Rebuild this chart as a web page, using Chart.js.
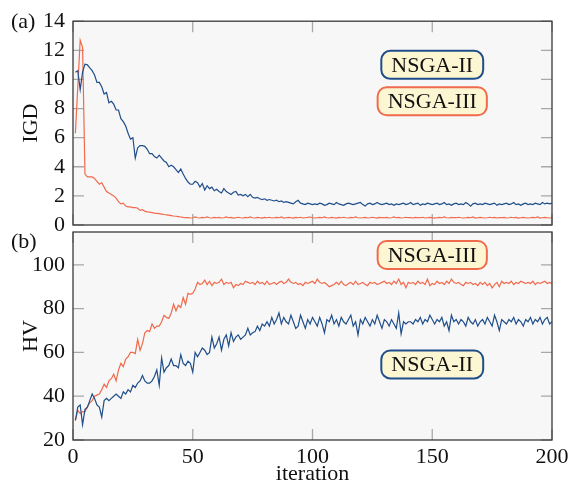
<!DOCTYPE html>
<html>
<head>
<meta charset="utf-8">
<script src="https://cdn.jsdelivr.net/npm/chart.js@4.4.0/dist/chart.umd.min.js"></script>
<style>
  html, body { margin: 0; padding: 0; background: #fff; }
  #wrap { position: relative; width: 578px; height: 485px; }
  canvas { position: absolute; left: 0; top: 0; }
</style>
</head>
<body>
<div id="wrap">
  <canvas id="igd-chart" width="578" height="485"></canvas>
  <canvas id="hv-chart" width="578" height="485"></canvas>
</div>
<script>
// Datos: un valor por iteración (1..200)
const igdNsga2 = [
  10.5, 10.6, 9.3, 10.5, 11.05, 11.0, 10.8, 10.6, 10.3, 9.8,
  9.8, 9.5, 9.0, 9.1, 8.4, 8.5, 8.3, 7.9, 7.9, 7.3,
  7.1, 6.8, 6.3, 5.9, 6.0, 4.6, 5.3, 5.45, 5.45, 5.4,
  5.2, 4.9, 4.9, 4.7, 4.6, 4.8, 4.6, 4.4, 4.3, 4.0,
  4.1, 4.0, 3.8, 3.6, 3.85, 3.5, 3.2, 2.95, 2.8, 2.8,
  3.0, 2.9, 2.6, 2.85, 2.4, 2.7, 2.5, 2.6, 2.35, 2.45,
  2.3, 2.2, 2.5, 2.3, 2.2, 2.1, 2.25, 2.3, 2.05, 2.1,
  2.0, 2.1, 1.95, 2.1, 1.9, 1.85, 1.9, 1.8, 1.75, 1.8,
  1.7, 1.75, 1.7, 1.65, 1.7, 1.6, 1.65, 1.55, 1.6, 1.55,
  1.5, 1.45, 1.6, 1.7, 1.5, 1.45, 1.4, 1.5, 1.45, 1.4,
  1.45, 1.4, 1.5, 1.45, 1.35, 1.4, 1.5, 1.45, 1.4, 1.55,
  1.45, 1.4, 1.35, 1.45, 1.5, 1.45, 1.4, 1.45, 1.5, 1.55,
  1.4, 1.3, 1.45, 1.5, 1.4, 1.45, 1.55, 1.45, 1.4, 1.45,
  1.5, 1.4, 1.45, 1.35, 1.45, 1.4, 1.45, 1.5, 1.4, 1.45,
  1.55, 1.4, 1.45, 1.5, 1.35, 1.45, 1.4, 1.5, 1.45, 1.4,
  1.45, 1.5, 1.4, 1.45, 1.55, 1.4, 1.45, 1.35, 1.45, 1.5,
  1.4, 1.45, 1.4, 1.55, 1.45, 1.3, 1.45, 1.5, 1.4, 1.45,
  1.4, 1.5, 1.45, 1.4, 1.45, 1.5, 1.35, 1.45, 1.4, 1.45,
  1.5, 1.4, 1.45, 1.55, 1.4, 1.45, 1.35, 1.45, 1.5, 1.4,
  1.45, 1.4, 1.5, 1.45, 1.4, 1.55, 1.45, 1.5, 1.45, 1.5
];
const igdNsga3 = [
  6.3, 9.5, 12.7, 12.2, 3.5, 3.3, 3.3, 3.3, 3.2, 3.0,
  2.8, 2.9, 2.6, 2.3, 2.2, 2.1, 2.0, 1.85, 1.6, 1.45,
  1.5, 1.3, 1.25, 1.25, 1.2, 1.2, 1.15, 1.0, 1.05, 0.95,
  0.9, 0.88, 0.85, 0.82, 0.8, 0.78, 0.75, 0.72, 0.7, 0.68,
  0.65, 0.62, 0.6, 0.58, 0.55, 0.52, 0.5, 0.5, 0.48, 0.5,
  0.55, 0.5, 0.48, 0.52, 0.5, 0.55, 0.5, 0.48, 0.52, 0.5,
  0.52, 0.48, 0.5, 0.55, 0.5, 0.52, 0.47, 0.5, 0.53, 0.5,
  0.48, 0.52, 0.5, 0.55, 0.5, 0.48, 0.52, 0.5, 0.47, 0.52,
  0.5, 0.53, 0.48, 0.5, 0.52, 0.5, 0.55, 0.48, 0.5, 0.52,
  0.5, 0.47, 0.52, 0.5, 0.53, 0.48, 0.5, 0.52, 0.55, 0.5,
  0.48, 0.5, 0.52, 0.5, 0.55, 0.5, 0.48, 0.52, 0.5, 0.47,
  0.52, 0.5, 0.53, 0.5, 0.48, 0.52, 0.5, 0.55, 0.5, 0.48,
  0.5, 0.52, 0.48, 0.5, 0.53, 0.5, 0.47, 0.52, 0.5, 0.5,
  0.52, 0.48, 0.5, 0.55, 0.5, 0.52, 0.48, 0.5, 0.53, 0.5,
  0.5, 0.48, 0.52, 0.5, 0.5, 0.53, 0.48, 0.5, 0.52, 0.5,
  0.47, 0.5, 0.52, 0.5, 0.55, 0.5, 0.48, 0.52, 0.5, 0.5,
  0.53, 0.5, 0.48, 0.5, 0.52, 0.5, 0.55, 0.48, 0.5, 0.52,
  0.5, 0.48, 0.5, 0.53, 0.5, 0.52, 0.48, 0.5, 0.5, 0.52,
  0.48, 0.5, 0.53, 0.5, 0.52, 0.47, 0.5, 0.52, 0.5, 0.48,
  0.5, 0.52, 0.5, 0.55, 0.48, 0.5, 0.52, 0.5, 0.48, 0.5
];
const hvNsga2 = [
  29, 35, 36, 27, 34, 35, 38, 41, 39, 36,
  35, 30.5, 38, 39, 38, 39, 40, 41, 40, 39,
  42, 41, 43, 42, 45, 44, 46, 47, 49.5, 47,
  46, 46, 47, 49, 52, 45, 57.5, 51, 53, 54,
  57, 54, 54, 53, 59, 55, 54, 56, 55, 51,
  60, 58, 60, 62, 61, 59, 60, 67, 62, 64,
  67, 61, 66, 68, 63, 69, 65, 67, 68, 66,
  67, 68, 71, 68, 69, 69.5, 72, 70, 73, 72,
  74, 72, 76, 73, 75, 78, 73, 76, 74, 73,
  77, 74, 71, 72, 77, 74, 71, 75, 73, 76,
  74, 72, 76, 73, 69, 75, 74, 77, 73, 75,
  72, 76, 74, 73, 75, 77, 72, 74, 68, 75,
  73, 76, 74, 72, 75, 73, 77, 74, 71, 75,
  74, 72, 75, 73, 71, 78, 68.5, 74, 73, 74,
  74, 73, 75, 74, 76, 73, 75, 74, 77, 75,
  73, 75, 74, 76, 72, 74, 70, 77, 74, 75,
  73, 75, 74, 72, 76, 74, 73, 75, 72, 74,
  75, 73, 76, 74, 72, 77, 74, 70, 75, 74,
  73, 75, 74, 76, 73, 75, 74, 72, 75, 74,
  76, 73, 75, 74, 76, 73, 75, 76, 73, 74
];
const hvNsga3 = [
  29, 33.5, 32, 33, 33, 35, 37, 38, 40, 40.5,
  41, 43, 45.5, 44, 47, 48, 50, 47, 52, 55,
  53.5, 57, 58, 60, 60, 59.5, 66, 61, 64, 69,
  70, 69.5, 73, 71, 72, 72, 74, 77, 76, 75.5,
  78, 82, 79, 81.5, 80.5, 85, 82, 87, 86.5, 87,
  89, 92, 91, 91.5, 93, 91, 92.5, 90.5, 92, 91.5,
  92, 93.5, 91, 92, 91.5, 92, 89.5, 91, 90.5, 91.5,
  91, 92.5, 92, 91.5, 92, 91, 92.5, 91.5, 92, 91,
  92.5, 91, 91.5, 92, 91, 92, 92.5, 91.5, 92, 93.5,
  92, 91.5, 92, 91, 91.5, 90.5, 92, 91.5, 92, 92.5,
  91.5, 93.5, 92, 91.5, 92, 91, 90, 90.5, 91, 92,
  91, 92.5, 91, 90.5, 91.5, 92, 91, 92.5, 91, 91.5,
  92, 91, 90.5, 92, 91.5, 92, 91, 91.5, 92, 92.5,
  91.5, 92, 91, 92.5, 91.5, 93.5, 91, 92, 89.5, 92,
  91.5, 92, 91, 92.5, 91.5, 92, 91, 93.5, 90.5, 91.5,
  91, 92.5, 91.5, 92, 91, 92.5, 91.5, 93.5, 92, 91.5,
  92, 91, 90.5, 92, 91.5, 92, 91, 91.5, 90.5, 92,
  91, 92, 90.5, 91.5, 89.5, 91, 92, 90, 92.5, 91.5,
  92, 91.5, 92.5, 91, 92, 91.5, 92.5, 92, 91.5, 92,
  91.5, 92.5, 91, 92, 91.5, 92, 92.5, 91.5, 92, 91.5
];

// Marcas de los ejes
const xTicks = [0, 50, 100, 150, 200];
const igdTicks = [0, 2, 4, 6, 8, 10, 12, 14];
const hvTicks = [20, 40, 60, 80, 100];

const BLUE = '#1f4e8a';
const ORANGE = '#f06a4c';
const FONT = "'Liberation Serif', 'DejaVu Serif', serif";

function toPoints(values) {
  return values.map((v, i) => ({ x: i + 1, y: v }));
}

// Plugin: fondo, marcas interiores, marco y etiquetas
const framePlugin = {
  id: 'frame',
  beforeDraw(chart) {
    const { ctx, chartArea: a } = chart;
    ctx.save();
    ctx.fillStyle = '#f7f7f7';
    ctx.fillRect(a.left, a.top, a.right - a.left, a.bottom - a.top);
    ctx.restore();
  },
  beforeDatasetsDraw(chart) {
    const { ctx, chartArea: a, scales } = chart;
    const len = 11;
    ctx.save();
    ctx.strokeStyle = '#a8a8a8';
    ctx.lineWidth = 1.3;
    ctx.beginPath();
    scales.x.ticks.forEach(t => {
      const px = scales.x.getPixelForValue(t.value);
      ctx.moveTo(px, a.bottom); ctx.lineTo(px, a.bottom - len);
      ctx.moveTo(px, a.top); ctx.lineTo(px, a.top + len);
    });
    scales.y.ticks.forEach(t => {
      const py = scales.y.getPixelForValue(t.value);
      ctx.moveTo(a.left, py); ctx.lineTo(a.left + len, py);
      ctx.moveTo(a.right, py); ctx.lineTo(a.right - len, py);
    });
    ctx.stroke();
    ctx.restore();
  },
  afterDraw(chart) {
    const { ctx, chartArea: a, scales } = chart;
    const cfg = chart.options.plugins.frame;
    ctx.save();
    ctx.strokeStyle = '#3a3a3a';
    ctx.lineWidth = 1.3;
    ctx.strokeRect(a.left, a.top, a.right - a.left, a.bottom - a.top);

    ctx.font = '22px ' + FONT;
    ctx.fillStyle = '#111';
    ctx.textAlign = 'left';
    ctx.textBaseline = 'alphabetic';
    ctx.fillText(cfg.tag, 11, cfg.tagY);

    // Cajas con el nombre del algoritmo
    ctx.font = '22px ' + FONT;
    cfg.labels.forEach(l => {
      const cx = scales.x.getPixelForValue(l.x);
      const cy = scales.y.getPixelForValue(l.y);
      const w = ctx.measureText(l.text).width + 20;
      const h = 28;
      ctx.beginPath();
      ctx.roundRect(cx - w / 2, cy - h / 2, w, h, 9);
      ctx.fillStyle = '#fdf6d3';
      ctx.fill();
      ctx.lineWidth = 2;
      ctx.strokeStyle = l.color;
      ctx.stroke();
      ctx.fillStyle = '#111';
      ctx.textAlign = 'center';
      ctx.textBaseline = 'middle';
      ctx.fillText(l.text, cx, cy + 1);
    });
    ctx.restore();
  }
};

function makePanel(id, p) {
  const ctx = document.getElementById(id).getContext('2d');
  return new Chart(ctx, {
    type: 'line',
    data: {
      datasets: [
        { data: toPoints(p.nsga2), borderColor: BLUE, borderWidth: 1.2, pointRadius: 0, tension: 0 },
        { data: toPoints(p.nsga3), borderColor: ORANGE, borderWidth: 1.2, pointRadius: 0, tension: 0 }
      ]
    },
    options: {
      responsive: false,
      animation: false,
      devicePixelRatio: 1,
      layout: { padding: { top: p.top, right: 26, left: 0, bottom: 0 } },
      plugins: {
        legend: { display: false },
        tooltip: { enabled: false },
        frame: { tag: p.tag, tagY: p.tagY, labels: p.labels }
      },
      scales: {
        x: {
          type: 'linear',
          min: 0, max: 200,
          grid: { display: false, drawTicks: false },
          border: { display: false },
          afterBuildTicks: s => { s.ticks = xTicks.map(v => ({ value: v })); },
          afterFit: s => { s.height = p.xHeight; },
          ticks: { display: p.showX, autoSkip: false, maxRotation: 0, padding: 4, color: '#111', font: { family: FONT, size: 22 } },
          title: { display: p.showX, text: 'iteration', color: '#111', padding: { top: 0, bottom: -2 }, font: { family: FONT, size: 22 } }
        },
        y: {
          min: p.yMin, max: p.yMax,
          grid: { display: false, drawTicks: false },
          border: { display: false },
          afterBuildTicks: s => { s.ticks = p.yTicks.map(v => ({ value: v })); },
          afterFit: s => { s.width = 73; },
          ticks: { autoSkip: false, padding: 8, color: '#111', font: { family: FONT, size: 22 } },
          title: { display: true, text: p.yTitle, color: '#111', padding: { top: 18, bottom: 0 }, font: { family: FONT, size: 22 } }
        }
      }
    },
    plugins: [framePlugin]
  });
}

document.addEventListener('DOMContentLoaded', function() {
  // Panel (a): IGD
  makePanel('igd-chart', {
    nsga2: igdNsga2, nsga3: igdNsga3,
    top: 17, xHeight: 260, showX: false,
    yMin: 0, yMax: 14, yTicks: igdTicks, yTitle: 'IGD',
    tag: '(a)', tagY: 28,
    labels: [
      { text: 'NSGA-II', x: 150, y: 11, color: BLUE },
      { text: 'NSGA-III', x: 150, y: 8.5, color: ORANGE }
    ]
  });

  // Panel (b): HV
  makePanel('hv-chart', {
    nsga2: hvNsga2, nsga3: hvNsga3,
    top: 232, xHeight: 45, showX: true,
    yMin: 20, yMax: 115, yTicks: hvTicks, yTitle: 'HV',
    tag: '(b)', tagY: 248,
    labels: [
      { text: 'NSGA-III', x: 150, y: 104.5, color: ORANGE },
      { text: 'NSGA-II', x: 150, y: 54.5, color: BLUE }
    ]
  });
});
</script>
</body>
</html>
